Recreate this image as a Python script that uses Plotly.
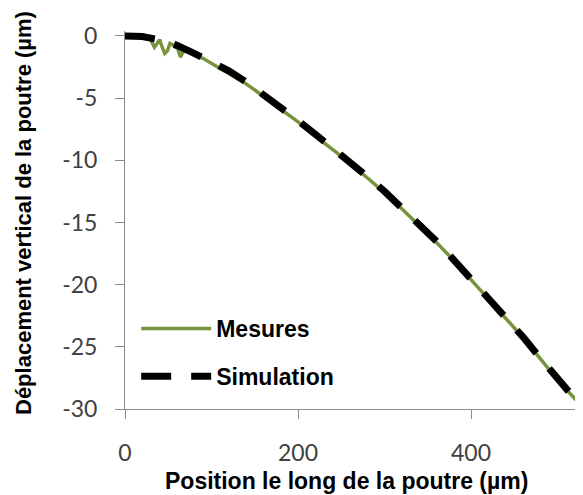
import plotly.graph_objects as go

# Data
sim_x = [0, 20, 40, 60, 80, 100, 120, 140, 160, 180, 200, 220, 240, 260, 280, 300,
         320, 340, 360, 380, 400, 420, 440, 460, 480, 500, 524]
sim_y = [0, -0.05, -0.3, -0.75, -1.4, -2.1, -2.8, -3.7, -4.7, -5.7, -6.8, -7.9, -9.0,
         -10.1, -11.3, -12.5, -13.8, -15.2, -16.5, -18.0, -19.5, -21.0, -22.6, -24.2,
         -25.9, -27.6, -29.5]

mes_x = [0, 10, 20, 28, 31, 34, 37, 40, 43, 46, 49, 52, 55, 58, 61, 64, 67, 70, 75,
         80, 90, 100, 110, 120, 140, 160, 180, 200, 220, 240, 260, 280, 300, 320, 340,
         360, 380, 400, 420, 440, 460, 480, 500, 527]
mes_y = [0.05, 0.0, 0.05, -0.1, -0.5, -0.9, -0.6, -0.3, -0.9, -1.4, -1.2, -0.6, -0.7,
         -0.9, -1.0, -1.7, -1.3, -1.1, -1.2, -1.5, -1.8, -2.2, -2.6, -3.0, -3.85, -4.85,
         -5.85, -6.9, -8.05, -9.1, -10.2, -11.4, -12.6, -13.9, -15.25, -16.6, -18.05,
         -19.6, -21.05, -22.65, -24.25, -25.95, -27.65, -29.7]

x_ticks = [0, 200, 400]
x_tick_labels = ["0", "200", "400"]
y_ticks = [0, -5, -10, -15, -20, -25, -30]
y_tick_labels = ["0", "-5", "-10", "-15", "-20", "-25", "-30"]

fig = go.Figure()
fig.add_trace(go.Scatter(x=mes_x, y=mes_y, mode="lines", name="Mesures",
                         legendgroup="a",
                         line=dict(color="#77933C", width=3.5)))
fig.add_trace(go.Scatter(x=sim_x, y=sim_y, mode="lines", name="Simulation",
                         legendgroup="b",
                         line=dict(color="#000000", width=7, dash="30px,20px")))

axis_common = dict(showgrid=False, zeroline=False, showline=True, linecolor="#8c8c8c",
                   linewidth=1, ticks="outside", ticklen=9, tickcolor="#8c8c8c",
                   tickfont=dict(family="Lato", size=23, color="#404040"))

fig.update_xaxes(range=[0, 538.7], tickvals=x_ticks, ticktext=x_tick_labels,
                 ticklabelstandoff=14, **axis_common)
fig.update_yaxes(range=[-30, 0.4], tickvals=y_ticks, ticktext=y_tick_labels,
                 ticklabelstandoff=13, **axis_common)

fig.update_layout(
    width=583, height=495,
    margin=dict(l=117, r=0, t=23, b=94),
    paper_bgcolor="white", plot_bgcolor="white",
    showlegend=True,
    legend=dict(x=0.024, y=0.27, xanchor="left", yanchor="top",
                bgcolor="rgba(0,0,0,0)", itemwidth=70, tracegroupgap=15,
                font=dict(family="Arial", size=23, color="black", weight="bold")),
    annotations=[
        dict(text="<b>Position le long de la poutre (µm)</b>", xref="paper", yref="paper",
             x=(338 - 117) / 466, y=-(473 - 401) / 378, xanchor="center", yanchor="middle",
             showarrow=False, font=dict(family="Arial", size=23, color="black")),
        dict(text="<b>Déplacement vertical de la poutre (µm)</b>", xref="paper", yref="paper",
             x=(15 - 117) / 466, y=(401 - 205) / 378, xanchor="center", yanchor="middle",
             textangle=-90, showarrow=False,
             font=dict(family="Arial", size=22, color="black")),
    ],
)

fig.write_html("out.html")
